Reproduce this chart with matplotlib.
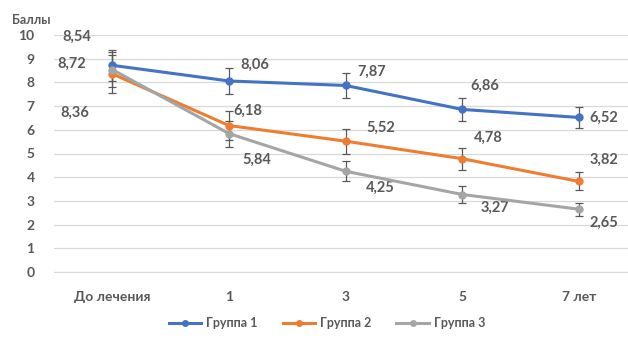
import matplotlib
matplotlib.use('Agg')
import matplotlib.pyplot as plt
from matplotlib.lines import Line2D

plt.rcParams['font.family'] = ['Lato', 'Noto Sans', 'DejaVu Sans']

categories = ['До лечения', '1', '3', '5', '7 лет']
series_names = ['Группа 1', 'Группа 2', 'Группа 3']
group1 = [8.72, 8.06, 7.87, 6.86, 6.52]
group2 = [8.36, 6.18, 5.52, 4.78, 3.82]
group3 = [8.54, 5.84, 4.25, 3.27, 2.65]
err1 = [0.65, 0.53, 0.53, 0.48, 0.46]
err2 = [0.80, 0.60, 0.52, 0.47, 0.38]
err3 = [0.75, 0.55, 0.42, 0.34, 0.28]
yticks = list(range(0, 11))

colors = ['#4472C4', '#ED7D31', '#A5A5A5']
# label offsets in pixels from each point (dx, dy)
offsets = [
    [(-41, 2), (26, 16), (26, 14), (22, 24), (25, 0)],
    [(-38, -39), (19, 15), (35, 13), (26, 21), (25, 22)],
    [(-36, 33), (28, -26), (35, -17), (33, -13), (25, -14)],
]
txt = '#595959'

fig = plt.figure(figsize=(6.28, 3.45), dpi=100)
ax = fig.add_axes([54 / 628, 73 / 345, 574 / 628, 237 / 345])

x = list(range(len(categories)))
data = [group1, group2, group3]
errs = [err1, err2, err3]
for vals, err, c in zip(data, errs, colors):
    ax.errorbar(x, vals, yerr=err, color=c, lw=2.2, marker='o', ms=5,
                ecolor='#595959', elinewidth=0.9, capsize=3, capthick=0.9,
                zorder=3)

for vals, offs in zip(data, offsets):
    for xi, v, (dx, dy) in zip(x, vals, offs):
        ax.annotate(f'{v:.2f}'.replace('.', ','), (xi, v), xytext=(dx, dy),
                    textcoords='offset pixels', ha='center', va='center',
                    fontsize=10.5, fontweight='bold', color=txt)

ax.set_xlim(-0.5, 4.42)
ax.set_ylim(0, 10)
ax.set_yticks(yticks)
ax.set_xticks(x)
ax.set_xticklabels(categories)
ax.grid(axis='y', color='#D9D9D9', lw=0.9)
ax.set_axisbelow(True)
for s in ['top', 'right', 'left']:
    ax.spines[s].set_visible(False)
ax.spines['bottom'].set_color('#D9D9D9')
ax.tick_params(axis='both', length=0, labelsize=10, labelcolor=txt)
ax.tick_params(axis='x', pad=14)
ax.tick_params(axis='y', pad=14)
for lab in ax.get_xticklabels() + ax.get_yticklabels():
    lab.set_fontweight('bold')

fig.text(12 / 628, 1 - 20 / 345, 'Баллы', fontsize=9, fontweight='bold',
         color=txt, va='center')

handles = [Line2D([], [], color=c, lw=2.2, marker='o', ms=4) for c in colors]
leg = fig.legend(handles, series_names, loc='center',
                 bbox_to_anchor=(327 / 628, 1 - 323 / 345),
                 ncol=3, frameon=False, fontsize=9, handlelength=2.6,
                 columnspacing=2.0, handletextpad=0.4)
for t in leg.get_texts():
    t.set_color(txt)
    t.set_fontweight('bold')

fig.savefig('out.png', dpi=100)
